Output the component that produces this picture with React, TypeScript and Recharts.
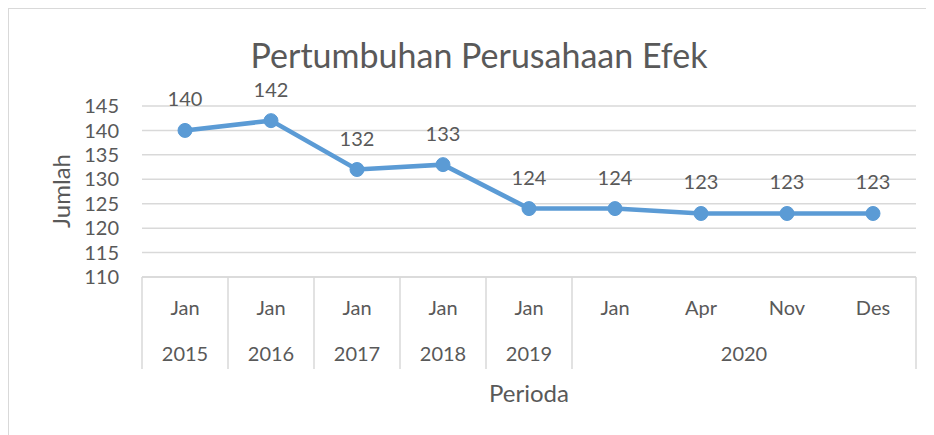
import { LineChart, Line, XAxis, YAxis, CartesianGrid, LabelList } from "recharts"

const months = ["Jan", "Jan", "Jan", "Jan", "Jan", "Jan", "Apr", "Nov", "Des"]
const years = ["2015", "2016", "2017", "2018", "2019", "2020", "2020", "2020", "2020"]
const values = [140, 142, 132, 133, 124, 124, 123, 123, 123]
const yTicks = [110, 115, 120, 125, 130, 135, 140, 145]

const data = months.map((m, i) => ({ key: `${m} ${years[i]}`, month: m, year: years[i], value: values[i] }))

const FONT = "Lato, 'Open Sans', sans-serif"
const TEXT = "#595959"
const GRID = "#D9D9D9"
const BLUE = "#5B9BD5"

const W = 924
const H = 426
const margin = { top: 97, right: 17, bottom: 58, left: 50 }
const Y_W = 83
const BAND = (W - margin.left - margin.right - Y_W) / months.length

// month on row one, year on row two, with separators between the years
function YearTick(props: any) {
  const { x, y, payload } = props
  const i = payload.index
  const yr = years[i]
  const first = i === 0 || years[i - 1] !== yr
  const last = i === years.length - 1
  let n = 0
  if (first) {
    while (i + n < years.length && years[i + n] === yr) n++
  }
  const left = x - BAND / 2
  return (
    <g>
      <text x={x} y={y + 38} textAnchor="middle" fill={TEXT} stroke="none" fontSize={20} fontFamily={FONT}>
        {months[i]}
      </text>
      {first && (
        <>
          <line x1={left} y1={y} x2={left} y2={y + 92} stroke={GRID} strokeWidth={1.5} />
          <text x={left + (n * BAND) / 2} y={y + 84} textAnchor="middle" fill={TEXT} stroke="none" fontSize={20} fontFamily={FONT}>
            {yr}
          </text>
        </>
      )}
      {last && <line x1={x + BAND / 2} y1={y} x2={x + BAND / 2} y2={y + 92} stroke={GRID} strokeWidth={1.5} />}
    </g>
  )
}

export default function App() {
  return (
    <div
      style={{
        position: "relative",
        width: W,
        height: H,
        border: "1px solid #D9D9D9",
        borderBottom: "none",
        background: "#fff",
        fontFamily: FONT,
      }}
    >
      <div
        style={{
          position: "absolute",
          left: 470,
          top: 26,
          transform: "translateX(-50%)",
          whiteSpace: "nowrap",
          fontSize: 34,
          lineHeight: 1.2,
          color: TEXT,
        }}
      >
        Pertumbuhan Perusahaan Efek
      </div>
      <div
        style={{
          position: "absolute",
          left: 51,
          top: 182,
          transform: "translate(-50%, -50%) rotate(-90deg)",
          fontSize: 24,
          color: TEXT,
          whiteSpace: "nowrap",
        }}
      >
        Jumlah
      </div>
      <div
        style={{
          position: "absolute",
          left: 520,
          top: 383,
          transform: "translate(-50%, -50%)",
          fontSize: 24,
          color: TEXT,
          whiteSpace: "nowrap",
        }}
      >
        Perioda
      </div>
      <LineChart width={W} height={H} data={data} margin={margin}>
        <CartesianGrid vertical={false} stroke={GRID} strokeWidth={1.5} />
        <XAxis
          dataKey="key"
          interval={0}
          height={100}
          padding={{ left: BAND / 2, right: BAND / 2 }}
          axisLine={{ stroke: GRID, strokeWidth: 1.5 }}
          tickLine={false}
          tickSize={0}
          tickMargin={0}
          tick={<YearTick />}
        />
        <YAxis
          width={Y_W}
          domain={[110, 145]}
          ticks={yTicks}
          interval={0}
          axisLine={false}
          tickLine={false}
          tickSize={0}
          tickMargin={23}
          tick={{ fill: TEXT, fontSize: 20, fontFamily: FONT }}
        />
        <Line
          dataKey="value"
          stroke={BLUE}
          strokeWidth={4.5}
          dot={{ r: 7, fill: BLUE, stroke: BLUE, strokeWidth: 1 }}
          activeDot={false}
          isAnimationActive={false}
        >
          <LabelList dataKey="value" position="top" offset={24} fill={TEXT} fontSize={20} fontFamily={FONT} />
        </Line>
      </LineChart>
    </div>
  )
}
